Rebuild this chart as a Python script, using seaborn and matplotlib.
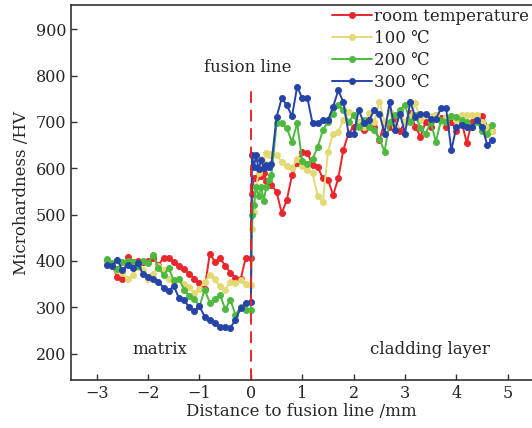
import matplotlib
matplotlib.use("Agg")
import matplotlib.pyplot as plt
import seaborn as sns
import pandas as pd

# distance to fusion line (mm) -- matrix side, then cladding side
dist_matrix = [-2.8, -2.7, -2.6, -2.5, -2.4, -2.3, -2.2, -2.1, -2.0, -1.9,
               -1.8, -1.7, -1.6, -1.5, -1.4, -1.3, -1.2, -1.1, -1.0, -0.9,
               -0.8, -0.7, -0.6, -0.5, -0.4, -0.3, -0.2, -0.1, 0.0]
dist_cladding = [0.02, 0.06, 0.1, 0.15, 0.2, 0.25, 0.3, 0.35, 0.4,
                 0.5, 0.6, 0.7, 0.8, 0.9, 1.0, 1.1, 1.2, 1.3, 1.4,
                 1.5, 1.6, 1.7, 1.8, 1.9, 2.0, 2.1, 2.2, 2.3, 2.4,
                 2.5, 2.6, 2.7, 2.8, 2.9, 3.0, 3.1, 3.2, 3.3, 3.4,
                 3.5, 3.6, 3.7, 3.8, 3.9, 4.0, 4.1, 4.2, 4.3, 4.4,
                 4.5, 4.6, 4.7]
distance = dist_matrix + dist_cladding

hv_room = [400, 392, 365, 360, 408, 398, 400, 398, 400, 407,
           392, 406, 406, 398, 390, 382, 372, 362, 352, 340,
           416, 398, 406, 390, 375, 363, 360, 407, 407,
           545, 580, 578, 585, 583, 590, 572, 568, 564,
           549, 503, 532, 585, 612, 636, 633, 607, 603, 578,
           575, 542, 578, 640, 675, 690, 700, 682, 705, 690,
           660, 700, 688, 706, 680, 700, 720, 690, 668, 700,
           690, 715, 708, 688, 700, 680, 700, 655, 700, 710,
           712, 690, 680]
hv_100 = [395, 390, 380, 375, 360, 370, 388, 380, 362, 372,
          390, 380, 362, 355, 360, 350, 343, 330, 340, 355,
          370, 360, 345, 338, 355, 352, 358, 350, 348,
          470, 505, 560, 590, 620, 612, 632, 628, 630,
          628, 614, 605, 600, 621, 605, 596, 589, 540, 528,
          636, 675, 679, 704, 722, 715, 700, 690, 720, 700,
          743, 700, 722, 690, 715, 700, 711, 740, 705, 715,
          712, 715, 700, 710, 712, 704, 715, 715, 715, 715,
          700, 690, 680]
hv_200 = [404, 395, 382, 398, 400, 398, 390, 400, 395, 413,
          385, 370, 384, 359, 362, 338, 324, 318, 302, 338,
          310, 318, 327, 296, 316, 284, 300, 295, 295,
          500, 520, 560, 540, 560, 530, 560, 575, 585,
          697, 697, 686, 657, 697, 615, 610, 620, 646, 682,
          700, 718, 736, 725, 700, 715, 690, 705, 690, 682,
          664, 636, 700, 715, 725, 736, 700, 715, 686, 675,
          700, 657, 704, 700, 712, 710, 704, 700, 690, 700,
          680, 675, 693]
hv_300 = [392, 390, 403, 380, 392, 384, 395, 372, 366, 362,
          355, 342, 336, 346, 320, 315, 300, 292, 302, 280,
          273, 266, 258, 258, 256, 273, 298, 309, 311,
          628, 603, 628, 598, 618, 600, 608, 603, 610,
          711, 751, 736, 712, 776, 751, 751, 697, 697, 704,
          704, 733, 768, 743, 675, 675, 725, 697, 704, 725,
          718, 675, 743, 682, 718, 675, 743, 711, 718, 718,
          707, 707, 729, 729, 639, 690, 693, 690, 690, 704,
          690, 650, 661]

series_labels = ["room temperature", "100 \u2103", "200 \u2103", "300 \u2103"]
series_values = [hv_room, hv_100, hv_200, hv_300]
series_colors = ["#e8262b", "#e4da74", "#4dba3f", "#2544a8"]

fusion_x = 0.0
fusion_top = 775

sns.set_style("ticks")
plt.rcParams["font.family"] = ["DejaVu Serif", "DejaVu Sans"]
plt.rcParams["xtick.direction"] = "in"
plt.rcParams["ytick.direction"] = "in"

fig = plt.figure(figsize=(5.32, 4.28), dpi=100)
ax = fig.add_axes([0.1335, 0.112, 0.8665, 0.876])

for label, vals, color in zip(series_labels, series_values, series_colors):
    df = pd.DataFrame({"distance": distance, "hv": vals})
    sns.lineplot(data=df, x="distance", y="hv", ax=ax, color=color,
                 marker="o", markersize=4.4, markeredgewidth=0.6,
                 markeredgecolor=color, linewidth=1.4, label=label)

ax.set_xlim(-3.5, 5.47)
ax.set_ylim(143, 952)
ax.vlines(fusion_x, 143, fusion_top, colors="#e8262b", linestyles=(0, (6, 3.5)),
          linewidth=1.4)

ax.set_xticks([-3, -2, -1, 0, 1, 2, 3, 4, 5])
ax.set_xticklabels(["\u22123", "\u22122", "\u22121", "0", "1", "2", "3", "4", "5"])
ax.set_yticks([200, 300, 400, 500, 600, 700, 800, 900])
ax.tick_params(labelsize=11.5, length=4, width=1, color="#333333")
ax.spines["right"].set_visible(False)
for s in ["left", "bottom", "top"]:
    ax.spines[s].set_linewidth(1.2)
    ax.spines[s].set_color("#333333")

ax.set_xlabel("Distance to fusion line /mm", fontsize=12, labelpad=1)
ax.set_ylabel("Microhardness /HV", fontsize=12, labelpad=4)

ax.text(-0.06, 818, "fusion line", fontsize=12, ha="center", va="center")
ax.text(-1.77, 208, "matrix", fontsize=12, ha="center", va="center")
ax.text(3.48, 208, "cladding layer", fontsize=12, ha="center", va="center")

ax.legend(loc="upper right", bbox_to_anchor=(1.0, 1.0), frameon=False,
          fontsize=12, handlelength=2.4, handletextpad=0.15,
          labelspacing=0.3, borderpad=0.0, borderaxespad=0.15)

fig.savefig("out.png", dpi=100)
